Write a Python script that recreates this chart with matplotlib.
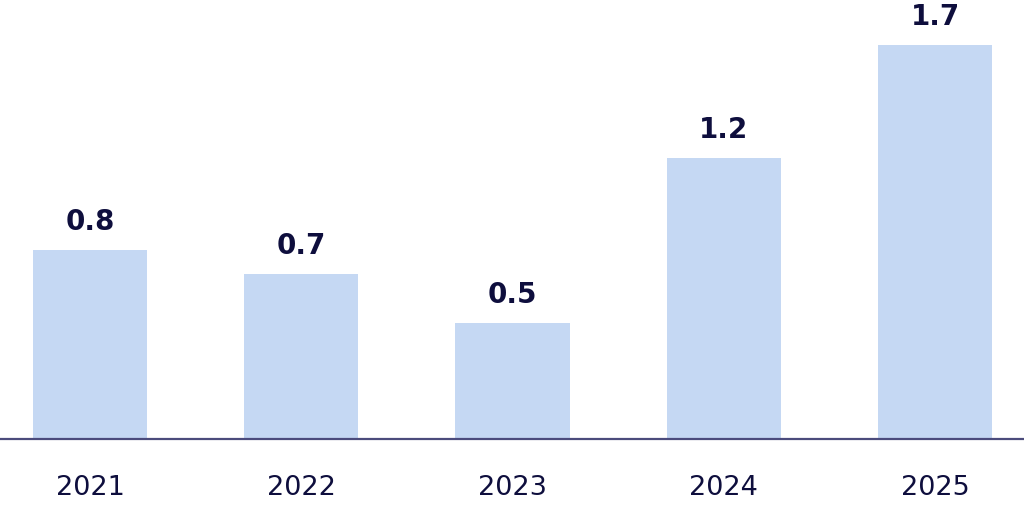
import matplotlib
matplotlib.use("Agg")
import matplotlib.pyplot as plt

years = ["2021", "2022", "2023", "2024", "2025"]
values = [0.80, 0.70, 0.49, 1.19, 1.67]
labels = ["0.8", "0.7", "0.5", "1.2", "1.7"]

bar_color = "#c5d8f3"
text_color = "#0e0e3d"
axis_color = "#4b4b7c"

fig = plt.figure(figsize=(10.24, 5.08), dpi=100)
ax = fig.add_axes([0, 69/508, 1, 439/508])
x = list(range(len(years)))
bars = ax.bar(x, values, width=0.54, color=bar_color, zorder=2)
ax.set_xlim(-0.426, 4.421)
ax.set_ylim(0, 439/236)

for xi, v, lab in zip(x, values, labels):
    ax.annotate(lab, (xi, v), xytext=(0, 10), textcoords="offset points",
                ha="center", va="bottom", fontsize=20, fontweight="bold",
                color=text_color, family="DejaVu Sans")

for s in ["top", "left", "right"]:
    ax.spines[s].set_visible(False)
ax.spines["bottom"].set_color(axis_color)
ax.spines["bottom"].set_linewidth(1.6)
ax.set_yticks([])
ax.set_xticks(x)
ax.set_xticklabels(years, fontsize=19.5, color=text_color, family="DejaVu Sans")
ax.tick_params(axis="x", length=0, pad=26)

fig.savefig("out.png", dpi=100)
